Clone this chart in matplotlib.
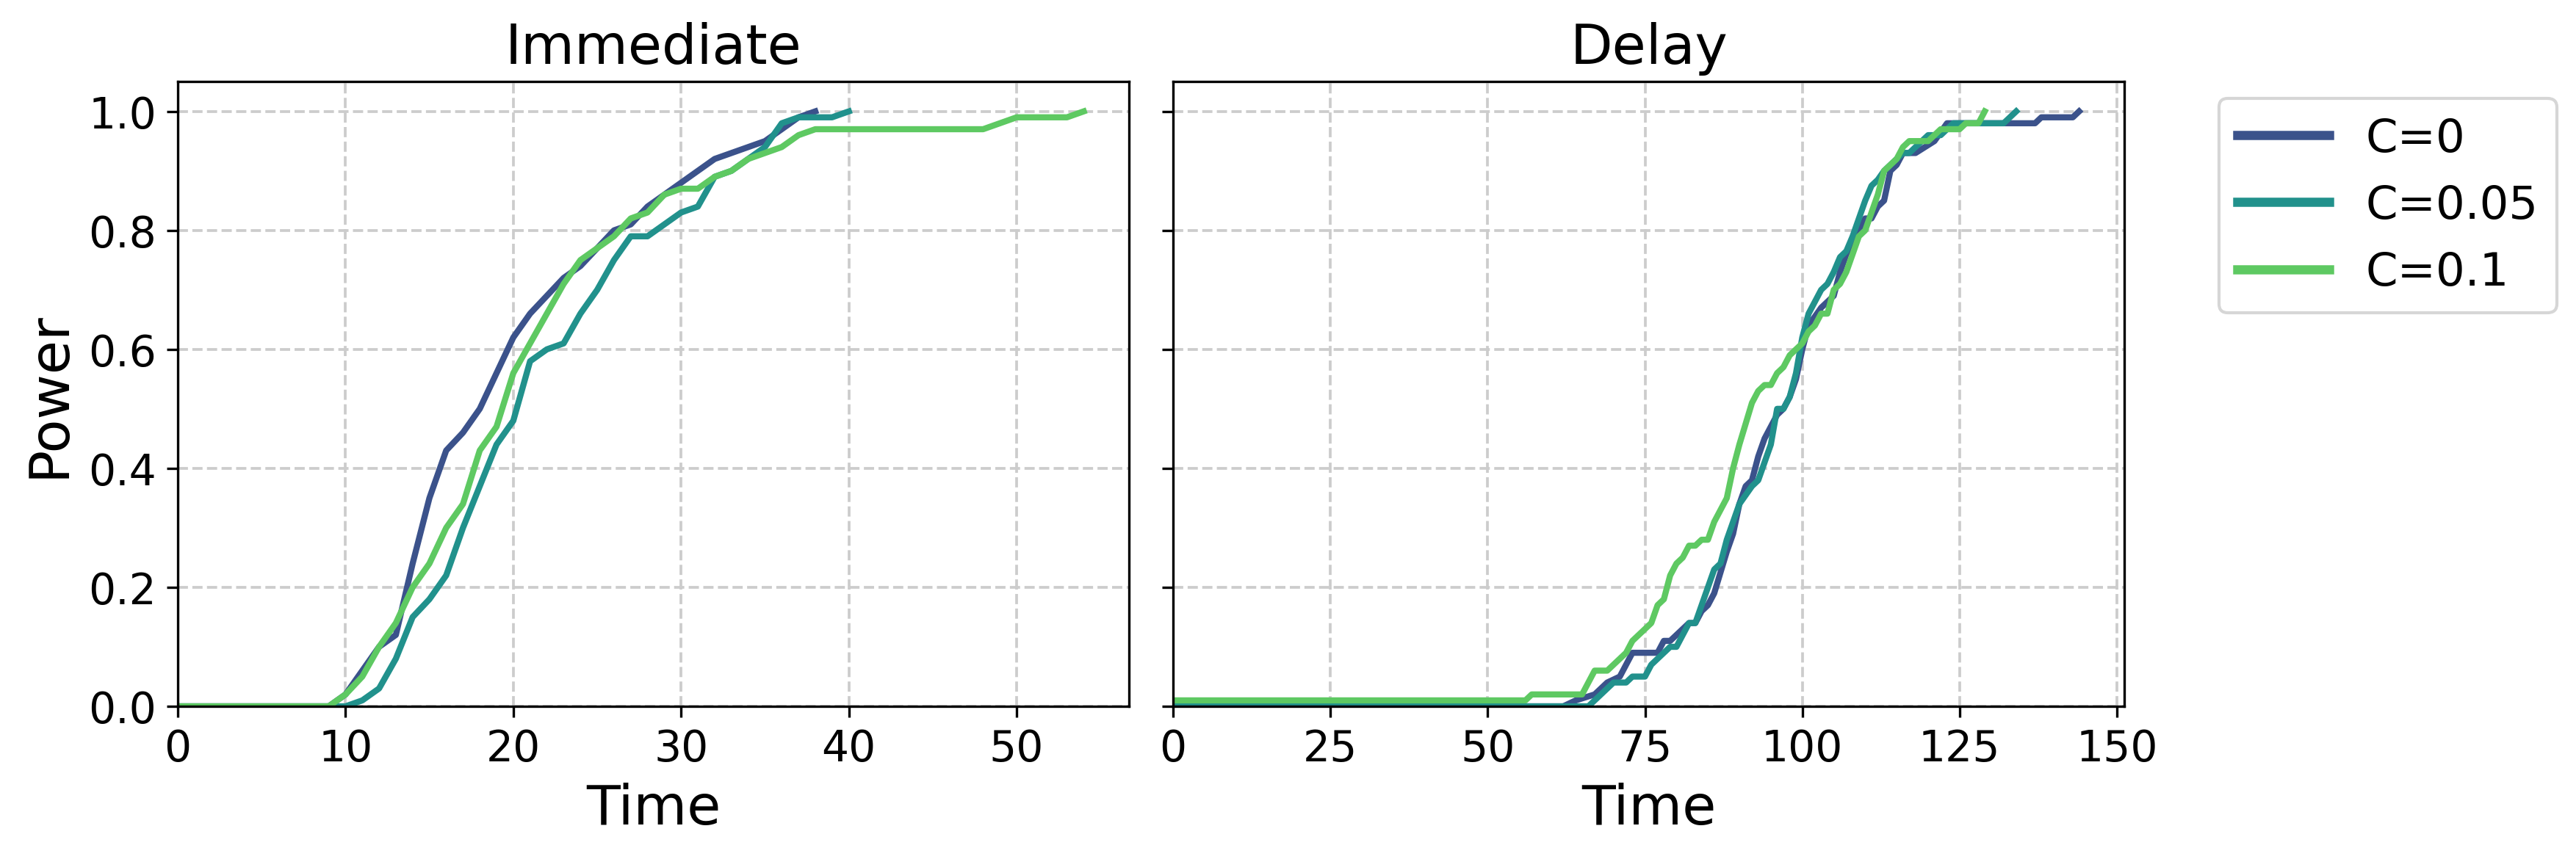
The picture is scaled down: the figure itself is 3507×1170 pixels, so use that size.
import numpy as np
import matplotlib
matplotlib.use("Agg")
import matplotlib.pyplot as plt

labels = ["C=0", "C=0.05", "C=0.1"]
colors = plt.cm.viridis([0.25, 0.5, 0.75])

# Immediate panel (integer time steps)
imm_c0_t = [0, 9, 10, 11, 12, 13, 14, 15, 16, 17, 18, 19, 20, 21, 22, 23, 24, 25, 26,
            27, 28, 29, 30, 31, 32, 33, 34, 35, 36, 37, 38]
imm_c0_p = [0, 0, 0.02, 0.06, 0.10, 0.12, 0.24, 0.35, 0.43, 0.46, 0.50, 0.56, 0.62, 0.66,
            0.69, 0.72, 0.74, 0.77, 0.80, 0.81, 0.84, 0.86, 0.88, 0.90, 0.92, 0.93, 0.94,
            0.95, 0.97, 0.99, 1.00]
imm_c05_t = [0, 10, 11, 12, 13, 14, 15, 16, 17, 18, 19, 20, 21, 22, 23, 24, 25, 26, 27,
             28, 29, 30, 31, 32, 33, 34, 35, 36, 37, 38, 39, 40]
imm_c05_p = [0, 0, 0.01, 0.03, 0.08, 0.15, 0.18, 0.22, 0.30, 0.37, 0.44, 0.48, 0.58, 0.60,
             0.61, 0.66, 0.70, 0.75, 0.79, 0.79, 0.81, 0.83, 0.84, 0.89, 0.90, 0.92, 0.94,
             0.98, 0.99, 0.99, 0.99, 1.00]
imm_c1_t = [0, 9, 10, 11, 12, 13, 14, 15, 16, 17, 18, 19, 20, 21, 22, 23, 24, 25, 26, 27,
            28, 29, 30, 31, 32, 33, 34, 35, 36, 37, 38, 48, 49, 50, 53, 54]
imm_c1_p = [0, 0, 0.02, 0.05, 0.10, 0.14, 0.20, 0.24, 0.30, 0.34, 0.43, 0.47, 0.56, 0.61,
            0.66, 0.71, 0.75, 0.77, 0.79, 0.82, 0.83, 0.86, 0.87, 0.87, 0.89, 0.90, 0.92,
            0.93, 0.94, 0.96, 0.97, 0.97, 0.98, 0.99, 0.99, 1.00]

# Delay panel
del_c0_t = [0, 62, 64, 67, 69, 71, 73, 77, 78, 79, 80, 82, 83, 84, 85, 86, 88, 89, 90, 91,
            92, 93, 94, 95, 96, 97, 98, 99, 100, 101, 102, 103, 105, 106, 107, 109, 110,
            111, 112, 113, 114, 115, 116, 118, 121, 123, 137, 138, 143, 144]
del_c0_p = [0, 0, 0.01, 0.02, 0.04, 0.05, 0.09, 0.09, 0.11, 0.11, 0.12, 0.14, 0.14, 0.16,
            0.17, 0.19, 0.26, 0.29, 0.34, 0.37, 0.38, 0.42, 0.45, 0.47, 0.49, 0.50, 0.52,
            0.55, 0.60, 0.64, 0.655, 0.67, 0.69, 0.73, 0.76, 0.80, 0.82, 0.82, 0.84, 0.85,
            0.90, 0.91, 0.93, 0.93, 0.95, 0.98, 0.98, 0.99, 0.99, 1.00]
del_c05_t = [0, 66, 70, 72, 73, 75, 76, 79, 80, 82, 83, 84, 85, 86, 87, 88, 89, 90, 92, 93,
             95, 96, 97, 98, 99, 100, 101, 103, 104, 105, 106, 107, 108, 110, 111, 112,
             113, 116, 117, 120, 122, 123, 124, 132, 134]
del_c05_p = [0, 0, 0.04, 0.04, 0.05, 0.05, 0.07, 0.10, 0.10, 0.14, 0.14, 0.17, 0.20, 0.23,
             0.24, 0.28, 0.31, 0.34, 0.37, 0.38, 0.44, 0.50, 0.50, 0.52, 0.56, 0.62, 0.66,
             0.70, 0.71, 0.73, 0.755, 0.765, 0.79, 0.85, 0.875, 0.885, 0.90, 0.93, 0.93,
             0.96, 0.96, 0.97, 0.98, 0.98, 1.00]
del_c1_t = [0, 56, 57, 65, 67, 69, 72, 73, 76, 77, 78, 79, 80, 81, 82, 83, 84, 85, 86, 88,
            89, 90, 92, 93, 94, 95, 96, 97, 98, 100, 101, 102, 103, 104, 105, 106, 107,
            109, 110, 112, 113, 115, 116, 117, 120, 122, 125, 126, 128, 129]
del_c1_p = [0.01, 0.01, 0.02, 0.02, 0.06, 0.06, 0.09, 0.11, 0.14, 0.17, 0.18, 0.22, 0.24,
            0.25, 0.27, 0.27, 0.28, 0.28, 0.31, 0.35, 0.40, 0.44, 0.51, 0.53, 0.54, 0.54,
            0.56, 0.57, 0.59, 0.61, 0.63, 0.64, 0.66, 0.66, 0.70, 0.71, 0.73, 0.79, 0.80,
            0.86, 0.90, 0.92, 0.94, 0.95, 0.95, 0.97, 0.97, 0.98, 0.98, 1.00]

panels = [
    ("Immediate", [(imm_c0_t, imm_c0_p), (imm_c05_t, imm_c05_p), (imm_c1_t, imm_c1_p)]),
    ("Delay", [(del_c0_t, del_c0_p), (del_c05_t, del_c05_p), (del_c1_t, del_c1_p)]),
]

fig = plt.figure(figsize=(11.69, 3.903), dpi=300)
ax1 = fig.add_axes([0.0690, 0.1776, 0.3693, 0.7267])
ax2 = fig.add_axes([0.4554, 0.1776, 0.3693, 0.7267], sharey=ax1)
axes = [ax1, ax2]

for ax, (title, series) in zip(axes, panels):
    for (t, p), lab, col in zip(series, labels, colors):
        ax.plot(t, p, color=col, lw=2, label=lab)
    ax.set_title(title, fontsize=18)
    ax.set_xlabel("Time", fontsize=18)
    ax.set_xlim(left=0)
    ax.grid(True, linestyle="--", color="#cccccc", lw=0.9)
    ax.tick_params(labelsize=14)

ax1.set_ylim(0, 1.05)
ax1.set_ylabel("Power", fontsize=18)
plt.setp(ax2.get_yticklabels(), visible=False)

leg = ax2.legend(loc="upper left", bbox_to_anchor=(1.075, 1.01), fontsize=15)
for h in leg.get_lines():
    h.set_linewidth(3)

fig.savefig("out.png", dpi=300)
